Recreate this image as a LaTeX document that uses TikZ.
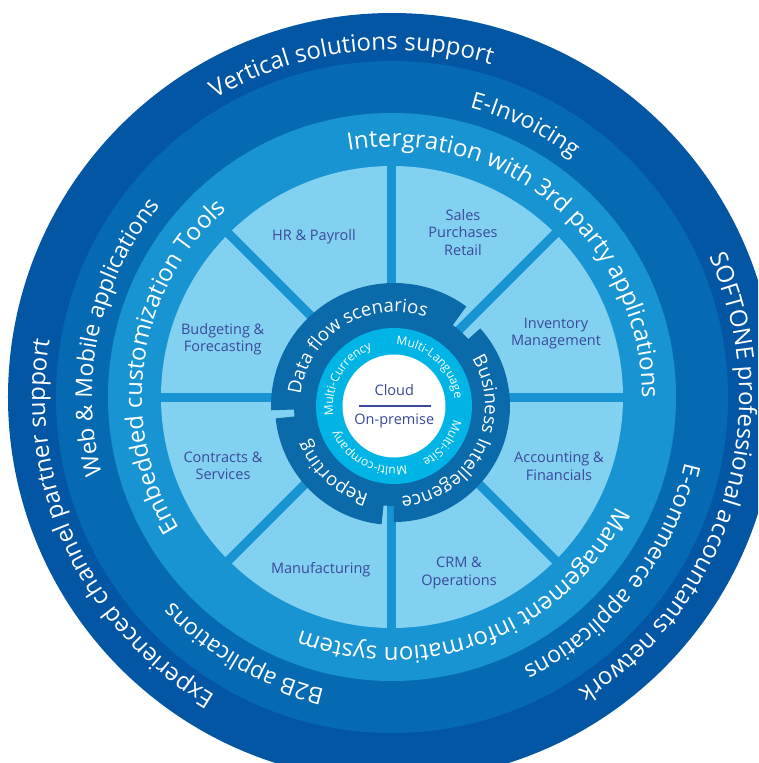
\documentclass[tikz,border=0pt]{standalone}
\usepackage{fontspec}
\setmainfont{Open Sans}
\usetikzlibrary{decorations.text}
\definecolor{ringA}{RGB}{3,86,164}
\definecolor{ringB}{RGB}{6,106,178}
\definecolor{ringC}{RGB}{24,148,211}
\definecolor{sector}{RGB}{131,209,240}
\definecolor{darkring}{RGB}{11,106,170}
\definecolor{cyanring}{RGB}{0,181,229}
\definecolor{labeltext}{RGB}{58,73,156}
\newcommand\ringlabel[4]{%
  \path[decorate, decoration={text along path, text align=center, text color=white,
    text={|\fontsize{#3}{#3}\selectfont|#4}}]
    (#1+89:#2) arc[start angle=#1+89, end angle=#1-89, radius=#2];}
\tikzset{
  seclabel/.style={text=labeltext, font=\fontsize{14.5}{17.5}\selectfont, align=center, inner sep=0pt},
  divider/.style={ringC, line width=9pt},
}
\begin{document}
\begin{tikzpicture}[x=1pt,y=1pt]
\useasboundingbox (-392,-366) rectangle (366,397);
\clip (-392,-366) rectangle (366,397);
% outer rings
\fill[ringA] (0,0) circle[radius=384pt];
\fill[ringB] (0,0) circle[radius=336pt];
\fill[ringC] (0,0) circle[radius=284pt];
\fill[sector] (0,0) circle[radius=231pt];
\foreach \a in {0,45,...,315} \draw[divider] (0,0) -- (\a:236pt);
% ring texts
\ringlabel{97}{347pt}{24}{Vertical solutions support}
\ringlabel{-16.9}{347pt}{24}{SOFTONE professional accountants network}
\ringlabel{205}{347pt}{24}{Experienced channel partner support}
\ringlabel{64}{300pt}{23}{E-Invoicing}
\ringlabel{167.7}{300pt}{23}{Web {\&} Mobile applications}
\ringlabel{-38.4}{300pt}{23}{E-commerce applications}
\ringlabel{240}{300pt}{23}{B2B applications}
\ringlabel{49.9}{250pt}{24}{Intergration with 3rd party applications}
\ringlabel{171.6}{250pt}{24}{Embedded customization Tools}
\ringlabel{-68.7}{250pt}{24}{Management information system}
% sector labels
\node[seclabel] (hr) at (-78,160.3) {HR \& Payroll};
\node[seclabel] (sales) at (71,164.5) {Sales\\Purchases\\Retail};
\node[seclabel] (inv) at (164,63.3) {Inventory\\Management};
\node[seclabel] (budget) at (-169.3,58) {Budgeting \&\\Forecasting};
\node[seclabel] (contracts) at (-169,-69) {Contracts \&\\Services};
\node[seclabel] (manuf) at (-71.3,-173) {Manufacturing};
\node[seclabel] (acc) at (167,-69) {Accounting \&\\Financials};
\node[seclabel] (crm) at (67,-176) {CRM \&\\Operations};
% inner core
\begin{scope}[shift={(2,-9)}]
  \fill[darkring] (0,0) circle[radius=100pt];
  \fill[darkring] (54:123pt) arc[start angle=54, end angle=182, radius=123pt] -- (182:90pt) arc[start angle=182, end angle=54, radius=90pt] -- cycle;
  \fill[darkring] (42:116pt) arc[start angle=42, end angle=-90, radius=116pt] -- (-90:90pt) arc[start angle=-90, end angle=42, radius=90pt] -- cycle;
  \fill[darkring] (186:119pt) arc[start angle=186, end angle=264, radius=119pt] -- (264:90pt) arc[start angle=264, end angle=186, radius=90pt] -- cycle;
  \fill[cyanring] (0,0) circle[radius=78pt];
  \fill[white] (0,0) circle[radius=51.5pt];
  \ringlabel{121.7}{94pt}{18.5}{Data flow scenarios}
  \ringlabel{-27.2}{91pt}{18.5}{Business Intellegence}
  \ringlabel{227.8}{92pt}{18.5}{Reporting}
  \ringlabel{149.9}{61pt}{12}{Multi-Currency}
  \ringlabel{47.4}{61pt}{12}{Multi-Language}
  \ringlabel{-37.6}{61pt}{12}{Multi-Site}
  \ringlabel{-117.4}{61pt}{12}{Multi-company}
  \node[seclabel] (cloud) at (0.3,16) {Cloud};
  \node[seclabel] (onprem) at (0.3,-15) {On-premise};
  \coordinate (lineL) at (-34.7,0.3);
  \coordinate (lineR) at (36.7,0.3);
  \draw[labeltext, line width=2pt] (lineL) -- (lineR);
\end{scope}
\end{tikzpicture}
\end{document}
